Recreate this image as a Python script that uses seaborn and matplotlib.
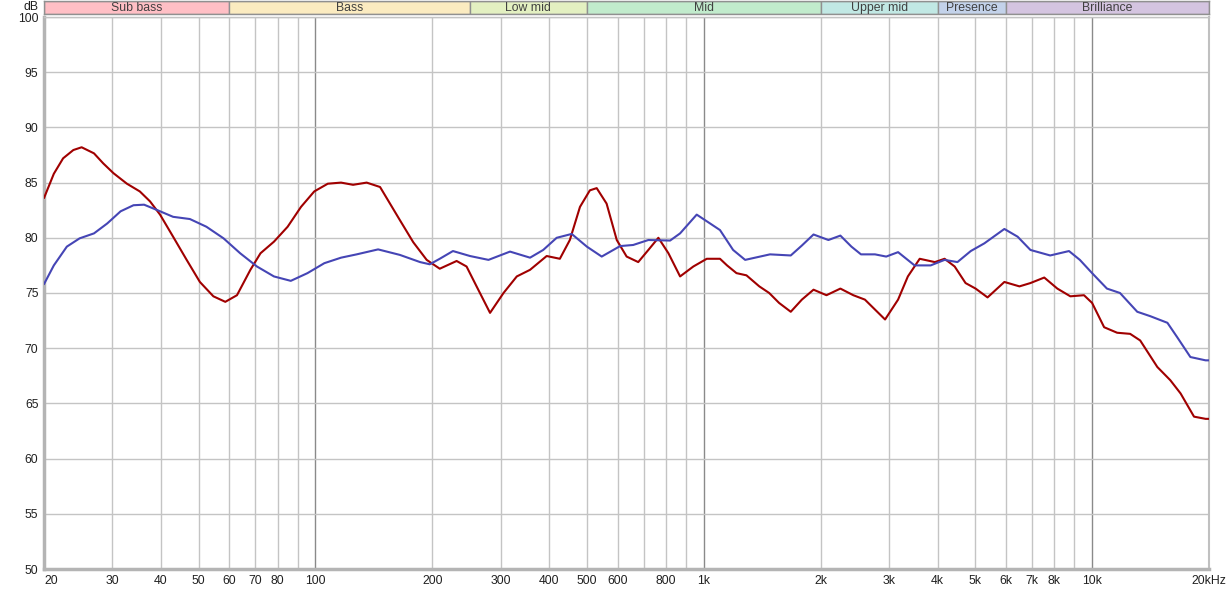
import numpy as np
import pandas as pd
import seaborn as sns
import matplotlib.pyplot as plt
from matplotlib.ticker import FixedLocator, NullLocator

# Frequency response values (Hz, dB)
red_freq = [20, 21.2, 22.4, 23.8, 25.0, 26.9, 28.4, 30.2, 32.7, 35.3, 37.5, 39.8, 43.0, 46.6, 50.4,
            54.6, 58.6, 62.8, 68.0, 72.2, 78.2, 84.8, 91.8, 99.3, 107.6, 116.4, 125, 135.5, 146.7,
            165, 178.6, 193.4, 209, 231, 245, 260, 281.6, 305, 330, 357, 394, 426, 452, 480, 509,
            530, 562, 597, 633, 678, 720, 764, 811, 869, 940, 1018, 1101, 1148, 1214, 1288, 1390,
            1474, 1563, 1675, 1789, 1917, 2070, 2248, 2427, 2600, 2760, 2930, 3165, 3354, 3598,
            3936, 4170, 4427, 4722, 5012, 5380, 5944, 6500, 6937, 7530, 8137, 8790, 9530, 10000,
            10740, 11600, 12530, 13300, 14720, 15900, 16900, 18300, 19600, 20000]
red_db = [83.6, 85.8, 87.2, 87.95, 88.2, 87.65, 86.75, 85.85, 84.9, 84.2, 83.3, 82.1, 80.1, 78.0, 76.0,
          74.7, 74.2, 74.8, 77.1, 78.6, 79.65, 81.0, 82.8, 84.2, 84.9, 85.0, 84.8, 85.0, 84.6,
          81.6, 79.6, 78.0, 77.2, 77.9, 77.4, 75.6, 73.2, 75.0, 76.5, 77.1, 78.35, 78.1, 79.8, 82.8,
          84.3, 84.5, 83.1, 79.8, 78.3, 77.8, 78.9, 80.0, 78.6, 76.5, 77.4, 78.1, 78.1, 77.5, 76.8,
          76.6, 75.6, 75.0, 74.1, 73.3, 74.4, 75.3, 74.8, 75.4, 74.8, 74.4, 73.5, 72.6, 74.4, 76.5,
          78.1, 77.8, 78.1, 77.4, 75.9, 75.4, 74.6, 76.0, 75.6, 75.9, 76.4, 75.4, 74.7, 74.8, 74.1,
          71.9, 71.4, 71.3, 70.7, 68.3, 67.1, 65.9, 63.8, 63.6, 63.6]

blue_freq = [20, 21.2, 22.9, 24.7, 26.9, 29.1, 31.5, 34.0, 36.2, 39.2, 43.0, 47.5, 52.4, 58.0, 64.0,
             70.7, 78.2, 86.4, 95.4, 105.4, 116.4, 127.7, 145, 165, 186, 197, 209, 226, 250, 279,
             317, 357, 386, 418, 457, 500, 546, 609, 658, 720, 819, 869, 959, 1038, 1101, 1190,
             1278, 1481, 1675, 1789, 1917, 2094, 2248, 2400, 2540, 2760, 2950, 3165, 3490, 3840,
             4170, 4500, 4870, 5280, 5944, 6430, 6937, 7800, 8720, 9300, 10000, 10920, 11800,
             13070, 14120, 15630, 16560, 17910, 19600, 20000]
blue_db = [75.8, 77.5, 79.2, 79.95, 80.4, 81.3, 82.4, 82.95, 83.0, 82.5, 81.9, 81.7, 81.0, 79.95, 78.6,
           77.4, 76.5, 76.1, 76.8, 77.7, 78.2, 78.5, 78.95, 78.45, 77.8, 77.6, 78.1, 78.8, 78.35, 78.0,
           78.75, 78.2, 78.9, 80.0, 80.35, 79.2, 78.3, 79.25, 79.35, 79.8, 79.75, 80.4, 82.1, 81.3,
           80.7, 78.9, 78.0, 78.5, 78.4, 79.3, 80.3, 79.8, 80.2, 79.2, 78.5, 78.5, 78.3, 78.7, 77.5,
           77.5, 78.0, 77.8, 78.8, 79.5, 80.8, 80.1, 78.9, 78.4, 78.8, 78.0, 76.8, 75.4, 75.0, 73.3,
           72.9, 72.3, 71.0, 69.2, 68.9, 68.9]

# Frequency bands shown along the top
band_names = ['Sub bass', 'Bass', 'Low mid', 'Mid', 'Upper mid', 'Presence', 'Brilliance']
band_edges = [20, 60, 250, 500, 2000, 4000, 6000, 20000]
band_colors = ['#ffbfc5', '#fbebc0', '#e3f0c1', '#c1ebcc', '#c1e8e4', '#c3d2ea', '#d4c4e0']

grid_freqs = [20, 30, 40, 50, 60, 70, 80, 90, 100, 200, 300, 400, 500, 600, 700, 800, 900,
              1000, 2000, 3000, 4000, 5000, 6000, 7000, 8000, 9000, 10000, 20000]
label_freqs = [20, 30, 40, 50, 60, 70, 80, 100, 200, 300, 400, 500, 600, 800,
               1000, 2000, 3000, 4000, 5000, 6000, 7000, 8000, 10000, 20000]
label_texts = ['20', '30', '40', '50', '60', '70', '80', '100', '200', '300', '400', '500', '600',
               '800', '1k', '2k', '3k', '4k', '5k', '6k', '7k', '8k', '10k', '20kHz']
db_ticks = [50, 55, 60, 65, 70, 75, 80, 85, 90, 95, 100]

df = pd.concat([
    pd.DataFrame({'freq': red_freq, 'db': red_db, 'series': 'red'}),
    pd.DataFrame({'freq': blue_freq, 'db': blue_db, 'series': 'blue'}),
])

sns.set_style('white')
plt.rcParams['font.family'] = ['Liberation Sans', 'DejaVu Sans']

W, H = 1231, 593
fig = plt.figure(figsize=(W / 100, H / 100), dpi=100)
ax = fig.add_axes([44 / W, (H - 569) / H, 1165 / W, 552 / H])

sns.lineplot(data=df, x='freq', y='db', hue='series', palette={'red': '#a00000', 'blue': '#4545b5'},
             estimator=None, sort=False, linewidth=1.5, legend=False, ax=ax, zorder=3)
for line in ax.get_lines():
    line.set_solid_joinstyle('round')

ax.set_xscale('log')
ax.set_xlim(20, 20000)
ax.set_ylim(50, 100)
ax.xaxis.set_major_locator(FixedLocator(label_freqs))
ax.xaxis.set_minor_locator(NullLocator())
ax.set_xticks(label_freqs)
ax.set_xticklabels(label_texts)
ax.set_yticks(db_ticks)
ax.set_yticklabels([str(v) for v in db_ticks])
ax.tick_params(axis='both', length=0, labelsize=8.8, colors='#202020')
ax.tick_params(axis='x', pad=4)
ax.tick_params(axis='y', pad=4)
ax.set_xlabel('')
ax.set_ylabel('')
for lbl in ax.get_xticklabels():
    if lbl.get_text() == '20':
        lbl.set_horizontalalignment('left')

# grid lines
for f in grid_freqs:
    dark = f in (100, 1000, 10000)
    ax.axvline(f, color='#8a8a8a' if dark else '#c4c4c4', linewidth=1, zorder=1)
for v in db_ticks:
    ax.axhline(v, color='#c4c4c4', linewidth=1, zorder=1)

for side in ['left', 'bottom']:
    ax.spines[side].set_color('#b4b4b4')
    ax.spines[side].set_linewidth(2.5)
ax.spines['right'].set_color('#c0c0c0')
ax.spines['right'].set_linewidth(1.5)
ax.spines['top'].set_color('#c4c4c4')
ax.spines['top'].set_linewidth(1)

fig.text(38 / W, 1 - 7 / H, 'dB', ha='right', va='center', fontsize=8.8, color='#202020')

# band strip on top
bax = fig.add_axes([44 / W, (H - 14) / H, 1165 / W, 13 / H])
bax.set_xscale('log')
bax.set_xlim(20, 20000)
bax.set_ylim(0, 1)
for name, lo, hi, c in zip(band_names, band_edges[:-1], band_edges[1:], band_colors):
    bax.axvspan(lo, hi, facecolor=c, edgecolor='#909090', linewidth=1)
    bax.text(np.sqrt(lo * hi), 0.48, name, ha='center', va='center', fontsize=8.8, color='#404040')
bax.set_xticks([])
bax.set_yticks([])
bax.xaxis.set_minor_locator(NullLocator())
for s in bax.spines.values():
    s.set_color('#909090')
    s.set_linewidth(1)

fig.savefig('out.png', dpi=100)
